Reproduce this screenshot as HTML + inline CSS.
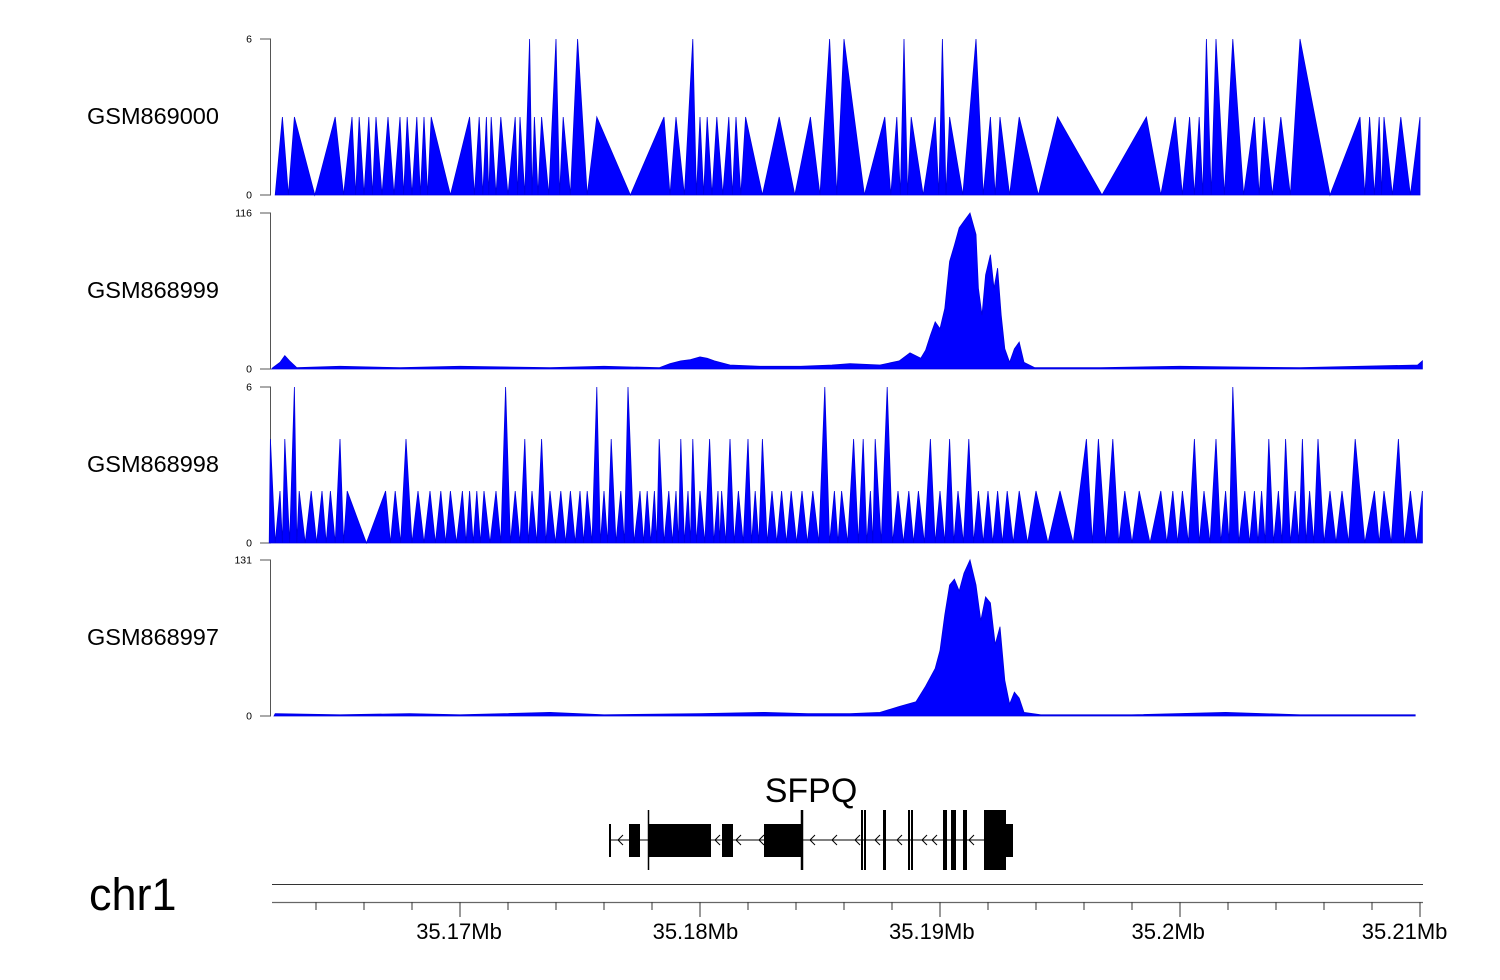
<!DOCTYPE html>
<html><head><meta charset="utf-8"><style>
html,body{margin:0;padding:0;background:#fff;}
svg{display:block;font-family:"Liberation Sans",Arial,sans-serif;}
</style></head><body>
<svg id="chart" width="1500" height="980" xmlns="http://www.w3.org/2000/svg">
<g id="tracks"></g>
<g id="gene"></g>
<g id="axis"></g>
<text x="89" y="910" font-size="45" fill="#000">chr1</text>
</svg>
<script>
// positions in kb offset from 35.16 Mb
const trackNames = ["GSM869000","GSM868999","GSM868998","GSM868997"];
const trackMax = [6,116,6,131];
const t1Pos = [2.6,3.1,4.8,5.5,5.8,6.2,6.5,7.0,7.5,7.8,8.2,8.5,8.8,10.4,10.8,11.1,11.3,11.7,12.3,12.5,12.9,13.1,13.4,14.0,14.3,14.9,15.7,18.5,19.0,19.7,20.0,20.3,20.7,21.2,21.5,21.9,23.3,24.6,25.4,26.0,27.7,28.2,28.5,28.8,29.8,30.1,30.4,31.5,32.1,32.5,33.3,34.9,38.6,39.8,40.4,40.8,41.1,41.5,42.2,43.1,43.5,44.2,45.0,47.5,47.9,48.3,48.5,49.2,50.0];
const t1Val = [3,3,3,3,3,3,3,3,3,3,3,3,3,3,3,3,3,3,3,3,6,3,3,6,3,6,3,3,3,6,3,3,3,3,3,3,3,3,6,6,3,3,6,3,3,6,3,6,3,3,3,3,3,3,3,3,6,6,6,3,3,3,6,3,3,3,3,3,3];
const t2Pos = [2.2,2.5,2.7,2.9,3.2,5.0,7.5,10.0,13.75,16.0,18.3,18.75,19.2,19.6,20.0,20.3,20.6,21.25,22.5,24.2,25.5,26.25,27.5,28.3,28.75,29.2,29.4,29.6,29.8,30.0,30.2,30.4,30.6,30.8,31.0,31.25,31.5,31.6,31.75,31.9,32.1,32.25,32.4,32.55,32.7,32.9,33.1,33.3,33.5,33.95,36.7,40.0,45.0,49.9,50.1];
const t2Val = [1,5,10,6,1,2,1,2,1,2,1,4,6,7,9,8,6,3,2,2,3,4,3,6,12,8,14,25,35,30,45,80,92,105,110,116,100,60,40,70,85,60,75,40,15,5,15,20,5,1,1,2,1,3,6];
const t3PeakPos = [2.1,2.7,3.1,5.0,7.75,11.9,12.7,13.4,15.7,16.3,17.0,18.3,19.2,19.7,20.4,21.25,22.0,22.6,25.2,26.4,26.8,27.3,27.8,29.6,30.4,31.2,36.1,36.6,37.2,40.6,41.5,42.2,43.7,44.4,45.1,45.75,47.3,49.1];
const t3PeakVal = [4,4,6,4,4,6,4,4,6,4,6,4,4,4,4,4,4,4,6,4,4,4,6,4,4,4,4,4,4,4,4,6,4,4,4,4,4,4];
const t3LowPos = [2.5,3.3,3.8,4.25,4.6,5.3,6.9,7.3,8.25,8.75,9.2,9.6,10.1,10.4,10.7,11.0,11.5,12.3,13.0,13.75,14.2,14.6,15.0,15.3,16.0,16.7,17.5,17.8,18.1,18.7,19.0,19.5,20.0,20.75,20.9,21.6,22.3,23.0,23.4,23.8,24.25,24.7,25.6,25.9,27.1,28.25,28.7,29.1,30.0,30.75,31.6,32.0,32.4,32.8,33.3,34.0,35.0,37.7,38.3,39.2,39.7,40.1,41.0,41.9,42.7,43.1,43.4,44.1,44.8,45.4,46.25,46.75,48.1,48.5,49.6,50.1];
const t3LowVal = 2;
const t4Pos = [2.3,5.0,7.9,10.0,13.75,16.0,20,22.7,24.5,26.25,27.5,28.3,29.0,29.4,29.8,30,30.2,30.4,30.6,30.8,31.0,31.25,31.5,31.7,31.9,32.1,32.3,32.5,32.7,32.9,33.1,33.3,33.5,34.2,38.0,41.9,45,49.8];
const t4Val = [2,1,2,1,3,1,2,3,2,2,3,8,12,25,40,55,85,110,115,105,120,131,110,80,100,95,60,75,30,10,20,15,3,1,1,3,1,1];
const tickLabels = ["35.17Mb","35.18Mb","35.19Mb","35.2Mb","35.21Mb"];
const tickKb = [10,20,30,40,50];

const NS="http://www.w3.org/2000/svg";
function mk(tag,attrs,parent){const e=document.createElementNS(NS,tag);for(const k in attrs)e.setAttribute(k,attrs[k]);parent.appendChild(e);return e;}
const xS = kb => 220 + kb*24;
const tops=[39,213,387,560], H=156;
const tracksG=document.getElementById('tracks');

function peaksToPts(pos,val){
  const pts=[];
  for(let i=0;i<pos.length;i++){
    if(i>0){pts.push([(pos[i-1]+pos[i])/2,0]);}
    pts.push([pos[i],val[i]]);
  }
  return pts;
}
const t3 = t3PeakPos.map((p,i)=>[p,t3PeakVal[i]]).concat(t3LowPos.map(p=>[p,t3LowVal])).sort((a,b)=>a[0]-b[0]);
const seriesPts = [
  peaksToPts(t1Pos,t1Val),
  t2Pos.map((p,i)=>[p,t2Val[i]]),
  peaksToPts(t3.map(d=>d[0]),t3.map(d=>d[1])),
  t4Pos.map((p,i)=>[p,t4Val[i]])
];
const startKb=[2.3,2.15,2.05,2.25];
seriesPts.forEach((pts,ti)=>{
  const top=tops[ti], base=top+H;
  const yS=v=>base - v/trackMax[ti]*H;
  const g=mk('g',{},tracksG);
  
  
  const lbl=mk('text',{x:87,y:top+H/2+7,'font-size':23.5,fill:'#000'},g);
  lbl.textContent=trackNames[ti];
  
  
  const ax=mk('path',{d:`M260 ${top}H270.5V${base}H260`,stroke:'#555',fill:'none','stroke-width':1},g);
  
  
  [[trackMax[ti],top],[0,base]].forEach(([v,y])=>{
    const t=mk('text',{x:252,y:y+3.5,'font-size':10.5,'text-anchor':'end',fill:'#000'},g);
    t.textContent=v;
    
    
  });
  let d=`M${xS(startKb[ti])} ${base}`;
  pts.forEach(p=>{d+=`L${xS(p[0]).toFixed(1)} ${yS(p[1]).toFixed(1)}`;});
  const last=pts[pts.length-1];
  d+=`L${xS(last[0]).toFixed(1)} ${base}Z`;
  const a=mk('path',{d:d,fill:'#0000ff',stroke:'#0000dd','stroke-width':0.8},g);
  
  
});

// gene model
const geneG=document.getElementById('gene');
const gt=mk('text',{x:811,y:802,'font-size':34,'text-anchor':'middle',fill:'#000'},geneG);
gt.textContent='SFPQ';


mk('line',{x1:610,y1:840,x2:1006,y2:840,stroke:'#000','stroke-width':1},geneG);
const exons=[[609,2,824,857],[629,11,824,857],[648,63,824,857],[722,11,824,857],[764,39,824,857],[861,2,810,870],[864,2,810,870],[883,3,810,870],[908,2,810,870],[911,2,810,870],[943,4,810,870],[951,5,810,870],[963,4,810,870],[984,22,810,870],[1006,7,824,857]];
exons.forEach(e=>{const r=mk('rect',{x:e[0],y:e[2],width:e[1],height:e[3]-e[2],fill:'#000'},geneG);

});
mk('line',{x1:648.5,y1:810,x2:648.5,y2:870,stroke:'#000','stroke-width':1.5},geneG);
mk('line',{x1:802,y1:810,x2:802,y2:870,stroke:'#000','stroke-width':2.5},geneG);
[618,715,736,759,810,832,855,875,897,922,932,969].forEach(x=>{
  mk('path',{d:`M${x+5} 835L${x} 840L${x+5} 845`,stroke:'#000',fill:'none','stroke-width':1},geneG);
});

// axis
const axG=document.getElementById('axis');
mk('line',{x1:272,y1:884.5,x2:1423,y2:884.5,stroke:'#333','stroke-width':1},axG);
mk('line',{x1:272,y1:902.5,x2:1423,y2:902.5,stroke:'#666','stroke-width':1.2},axG);
for(let kb=4;kb<=50;kb+=2){
  mk('line',{x1:xS(kb),y1:902,x2:xS(kb),y2:tickKb.includes(kb)?917:910,stroke:'#333','stroke-width':1},axG);
}
tickKb.forEach((kb,i)=>{
  const t=mk('text',{x:xS(kb)-1-i*3.6,y:939,'font-size':22,'text-anchor':'middle',fill:'#000'},axG);
  t.textContent=tickLabels[i];
  
  
});
</script>
</body></html>
